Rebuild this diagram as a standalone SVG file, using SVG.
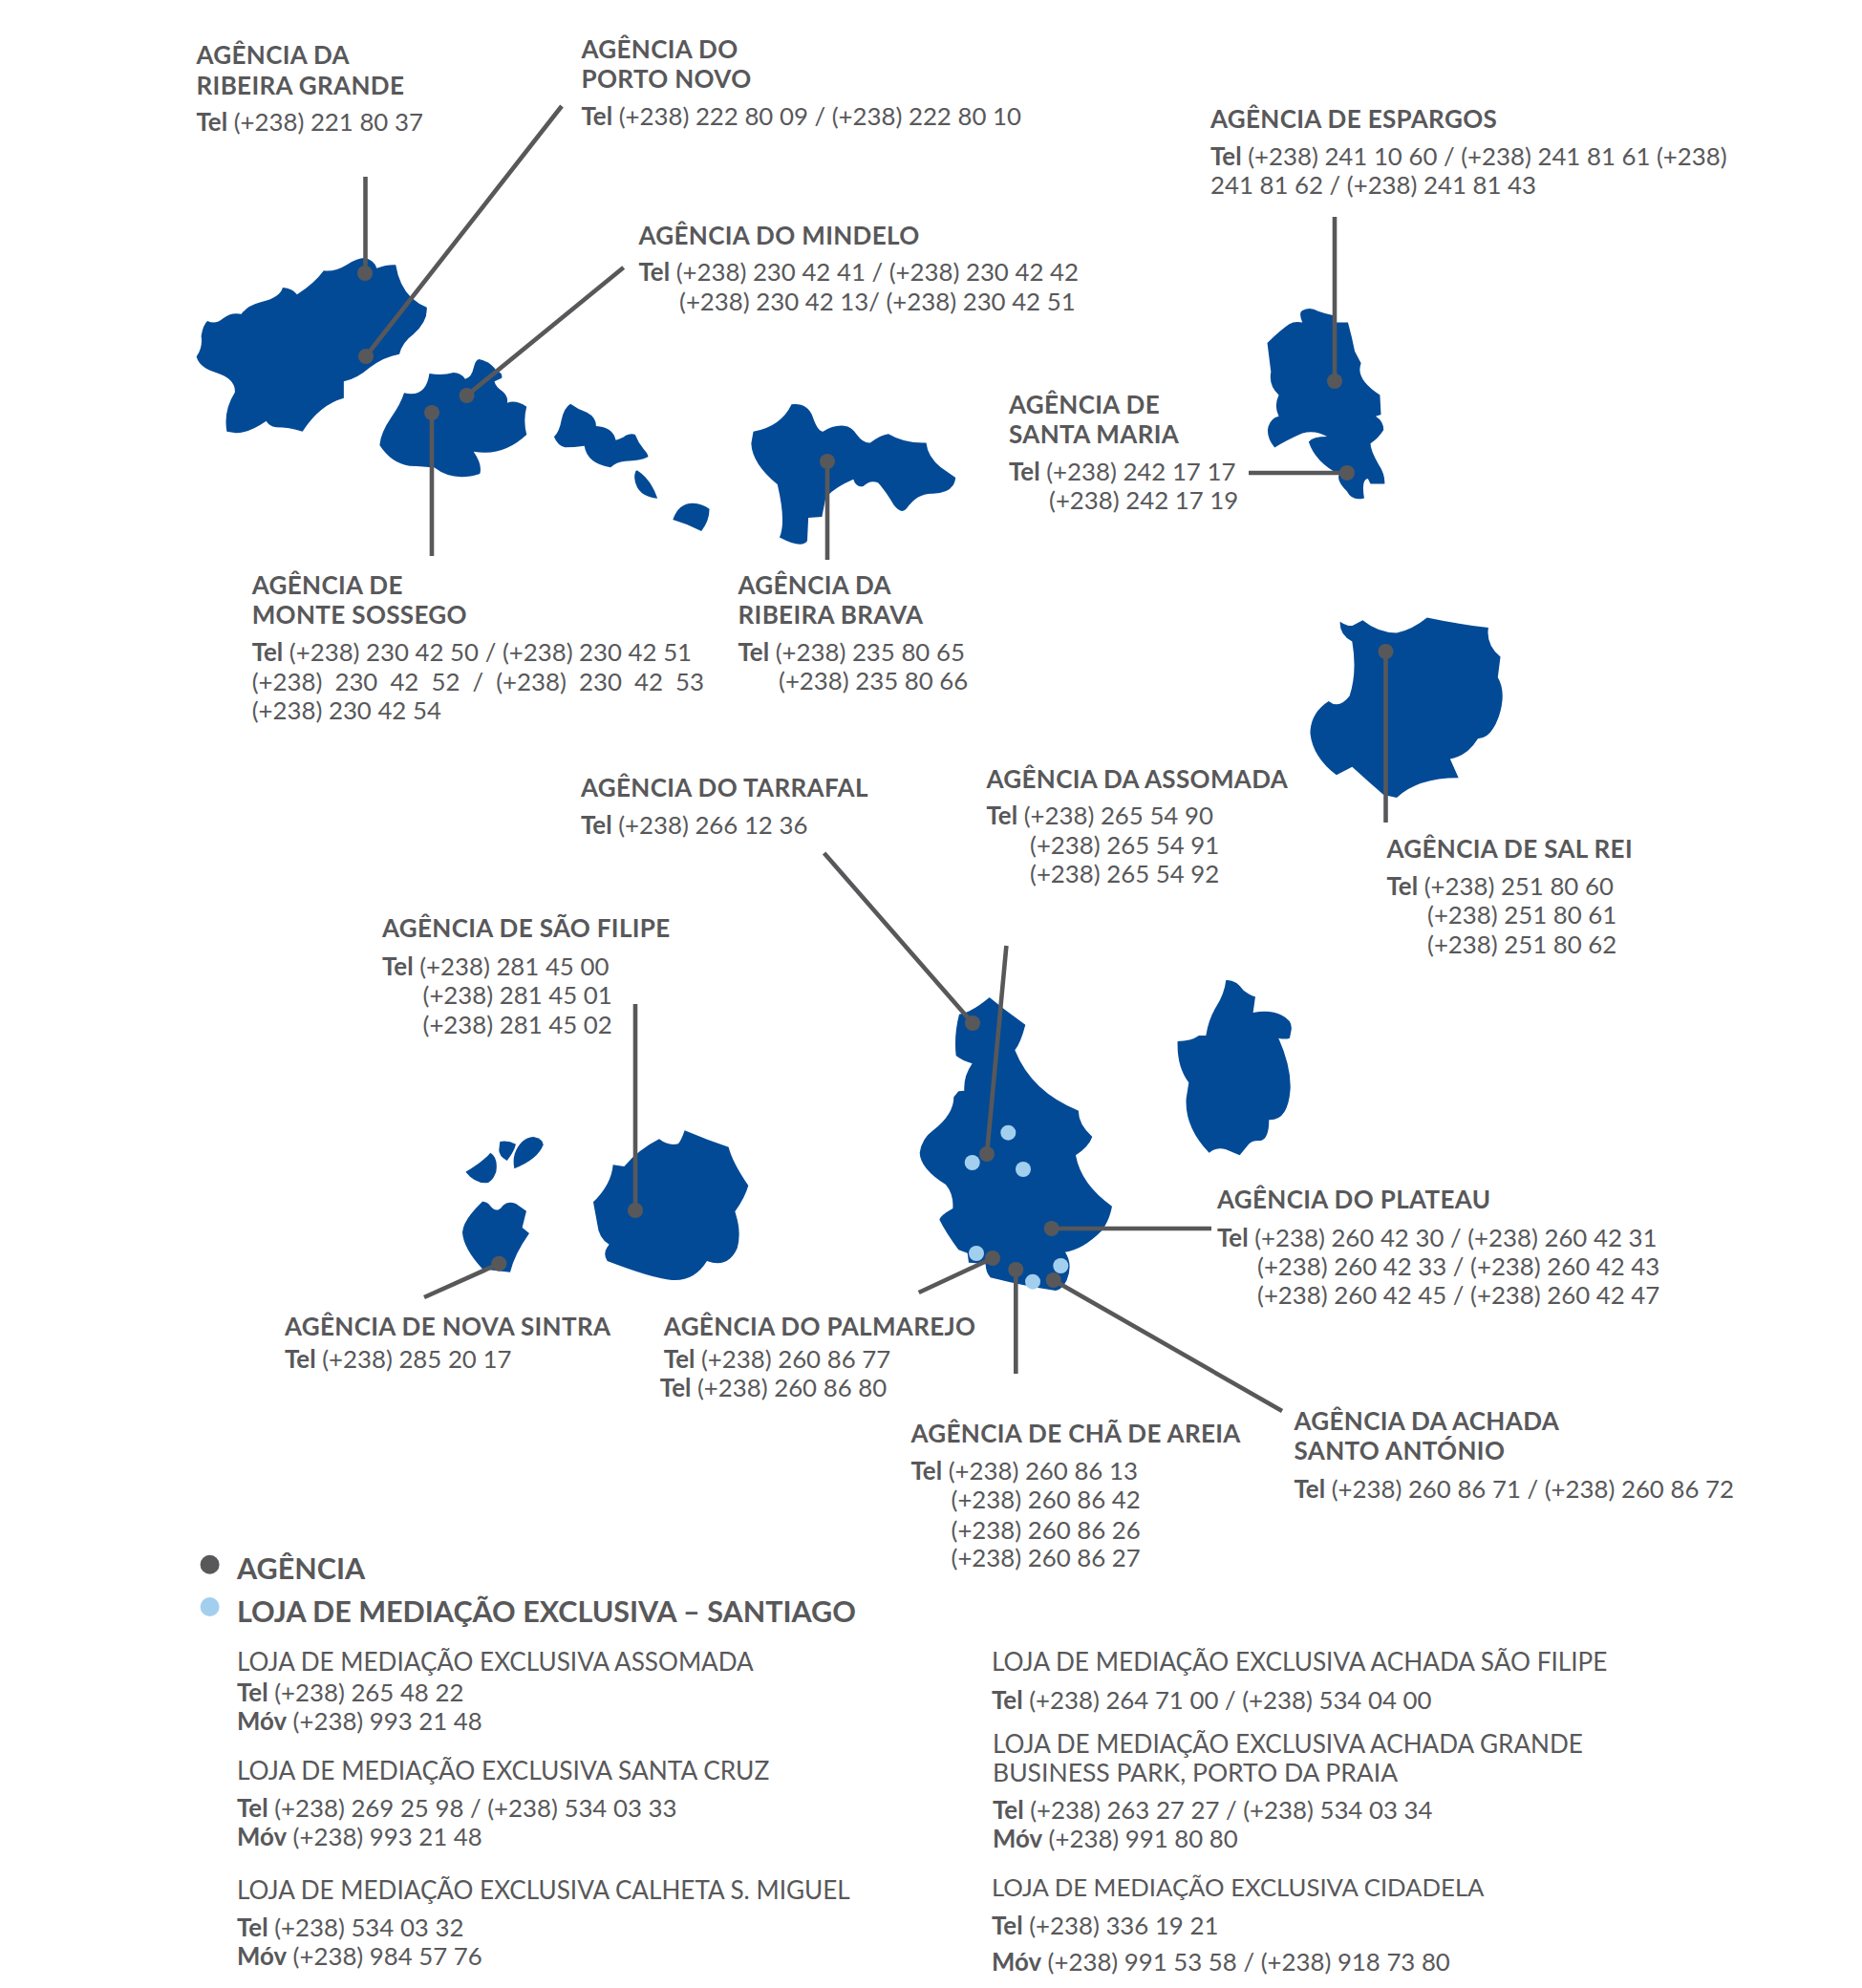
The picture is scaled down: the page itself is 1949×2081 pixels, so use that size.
<svg xmlns="http://www.w3.org/2000/svg" width="1949" height="2081" viewBox="0 0 1949 2081">
<style>
text{font-family:"Lato","Liberation Sans",sans-serif;font-size:25.8px;fill:#58585a}
.h{font-weight:700;font-size:26px;letter-spacing:.35px}
.b{font-weight:700}
.n{font-size:26.1px}
.big{font-weight:700;font-size:30.5px}
.isl{fill:#034a96}
.c{stroke:#58585a;stroke-width:4.6;fill:none}
.d{fill:#58585a}
.l{fill:#a3cfef}
</style>
<rect width="1949" height="2081" fill="#fff"/>
<g id="islands">
<g transform="translate(180 240) scale(.3827 .3333)">
<path class="isl" d="M530 90Q555 100 560 122Q590 110 612 112Q622 180 655 215Q675 235 697 245Q700 290 660 330Q630 355 622 392Q580 400 540 435Q505 470 470 478L470 530Q405 550 357 635Q320 622 285 622Q265 618 258 602Q210 640 175 640L150 635Q140 570 172 512Q175 470 120 450Q75 435 67 400Q85 370 80 335Q85 300 97 288Q120 300 140 280Q160 260 190 266Q205 240 245 228Q295 215 303 183Q330 185 342 205Q390 170 415 130Q445 135 480 110Q510 88 530 90Z"/>
<path class="isl" d="M704 453Q740 460 770 450Q790 450 802 470Q820 465 825 435Q830 410 840 408Q870 415 888 445Q905 450 902 467L882 478Q885 495 905 510Q920 525 917 545Q940 535 970 557Q960 600 970 645Q905 715 825 698Q850 740 842 768Q770 795 717 748Q690 745 650 743Q600 735 568 678Q570 640 600 590Q625 550 635 514Q695 530 704 453Z"/>
<path class="isl" d="M1090 548Q1110 565 1135 575Q1160 590 1160 618Q1205 620 1214 662Q1235 655 1240 648Q1255 640 1267 645Q1275 670 1290 690Q1305 710 1302 715Q1280 728 1240 728Q1215 730 1200 748Q1135 735 1128 680Q1100 685 1075 685Q1055 680 1045 652Q1060 635 1065 600Q1072 560 1090 548Z"/>
<path class="isl" d="M1272 757Q1310 785 1328 845Q1270 840 1265 780Q1265 762 1272 757Z"/>
<path class="isl" d="M1470 878Q1470 915 1448 948Q1410 925 1370 912Q1385 860 1425 860Q1450 862 1470 878Z"/>
</g>
<g transform="translate(760 300) scale(.5484 .3571)">
<path class="isl" d="M125 345Q155 340 165 380Q175 425 185 425Q205 405 225 408Q240 410 250 435Q262 460 275 458Q295 435 310 432Q340 460 382 458Q385 500 410 530L438 560Q435 605 395 607Q365 605 345 650Q335 670 320 640Q305 600 290 575Q275 565 262 585Q248 590 243 565Q205 590 190 620L183 675L157 678L155 745Q145 770 102 735Q115 690 98 580Q50 520 48 460L52 425Q105 410 125 345Z"/>
<path class="isl" d="M1100 70Q1115 58 1130 72Q1145 80 1160 85L1162 105L1187 105Q1195 150 1200 190L1212 225Q1200 270 1248 318L1250 375L1240 380Q1255 395 1255 420Q1245 445 1230 460Q1230 480 1245 520Q1258 550 1257 578L1230 578L1225 563Q1212 565 1218 620Q1195 630 1185 600Q1165 570 1170 550Q1125 515 1112 455Q1120 440 1147 440Q1125 420 1100 430Q1070 450 1047 472Q1030 440 1035 410Q1040 385 1055 380Q1045 350 1055 318Q1035 290 1040 250L1033 165Q1060 125 1075 110Q1085 100 1100 105Q1092 75 1100 70Z"/>
<path class="isl" d="M1172 982Q1190 1000 1198 992L1215 978Q1245 1015 1280 1015Q1310 1005 1338 970Q1400 990 1455 1000Q1450 1050 1478 1085L1473 1145Q1490 1190 1475 1260Q1460 1325 1435 1325Q1415 1375 1382 1385L1398 1440Q1320 1440 1280 1498L1255 1490Q1225 1450 1195 1408L1165 1432Q1120 1380 1115 1310Q1115 1250 1150 1215Q1170 1240 1190 1200Q1205 1130 1195 1040Q1170 1020 1172 982Z"/>
</g>
<g transform="translate(940 1010) scale(.3333)">
<path class="isl" d="M287 102L335 140L400 188Q385 245 367 268Q420 400 567 458Q565 500 610 540Q600 570 558 598Q575 690 672 758Q665 800 640 835Q580 895 525 902Q550 940 530 990Q515 1020 495 1023Q400 1010 290 982Q275 965 275 940L222 935L218 905L190 895Q150 840 130 800Q135 785 172 765Q175 720 150 690Q70 640 68 590Q75 545 110 520Q175 470 175 415L190 397L208 395Q205 350 233 310Q200 300 182 285Q175 220 192 155Q230 150 287 102Z"/>
<path class="isl" d="M1030 48Q1060 45 1085 80Q1105 95 1122 100L1115 150Q1170 140 1205 158Q1240 175 1235 205L1230 230Q1215 235 1195 230Q1235 320 1232 390Q1225 490 1165 487Q1165 545 1140 552Q1110 550 1100 565L1073 598L1030 580Q1000 570 977 590Q900 510 905 420L913 370Q875 320 878 240Q920 240 945 222L967 222Q975 170 1000 130Q1025 90 1030 48Z"/>
</g>
<g transform="translate(460 1020) scale(.3333)">
<path class="isl" d="M770 490Q840 520 908 542Q920 590 970 663Q960 700 928 745Q950 810 935 860Q905 925 840 900Q800 965 730 960Q670 955 527 900Q510 875 533 848Q500 830 495 780L483 715Q540 660 545 598L580 603Q625 550 690 517Q720 540 750 532Q760 520 770 490Z"/>
<path class="isl" d="M135 713Q150 712 165 733Q182 750 200 725Q215 710 240 720L273 743Q265 775 260 795L282 813Q235 880 222 935L195 932L135 925Q75 860 72 810Q75 770 135 713Z"/>
<path class="isl" d="M160 560Q185 575 178 620Q165 655 145 655Q110 655 82 620Q135 590 160 560Z"/>
<path class="isl" d="M190 525Q215 520 240 533Q235 555 212 585Q185 570 187 550Z"/>
<path class="isl" d="M295 510Q325 515 326 535Q310 580 235 610Q225 560 260 525Q275 512 295 510Z"/>
</g>
</g>
<g id="connectors">
<path class="c" d="M382.5 185V286"/>
<path class="c" d="M588 111L383 373"/>
<path class="c" d="M652.7 280L488.6 414"/>
<path class="c" d="M452 432V582"/>
<path class="c" d="M866 483V586"/>
<path class="c" d="M1397 227V399"/>
<path class="c" d="M1307 495H1410"/>
<path class="c" d="M1450.5 682V861"/>
<path class="c" d="M665 1051V1267"/>
<path class="c" d="M444 1358L522 1323"/>
<path class="c" d="M862.6 893L1018 1071"/>
<path class="c" d="M1053.4 990L1033 1208"/>
<path class="c" d="M1268 1286H1100.7"/>
<path class="c" d="M961.7 1353L1039 1317"/>
<path class="c" d="M1063.3 1329V1438"/>
<path class="c" d="M1342 1477L1102.7 1340"/>
</g>
<g id="shops">
<circle class="l" cx="1055.3" cy="1185.7" r="8"/>
<circle class="l" cx="1017.7" cy="1217" r="8"/>
<circle class="l" cx="1071" cy="1224" r="8"/>
<circle class="l" cx="1022" cy="1312" r="8"/>
<circle class="l" cx="1110.3" cy="1325" r="8"/>
<circle class="l" cx="1081" cy="1341.7" r="8"/>
</g>
<g id="ribeira-grande"><circle class="d" cx="382" cy="286" r="8"/>
<text class="h" x="205.5" y="66.7">AGÊNCIA DA</text><text class="h" x="205.5" y="98.7">RIBEIRA GRANDE</text>
<text x="205.5" y="137.2"><tspan class="b">Tel</tspan> (+238) 221 80 37</text></g>
<g id="porto-novo"><circle class="d" cx="383" cy="373" r="8"/>
<text class="h" x="608.5" y="60.8">AGÊNCIA DO</text><text class="h" x="608.5" y="92.1">PORTO NOVO</text>
<text x="608.5" y="130.7"><tspan class="b">Tel</tspan> (+238) 222 80 09 / (+238) 222 80 10</text></g>
<g id="espargos"><circle class="d" cx="1397" cy="399" r="8"/>
<text class="h" x="1267" y="133.7">AGÊNCIA DE ESPARGOS</text>
<text x="1267" y="172.9"><tspan class="b">Tel</tspan> (+238) 241 10 60 / (+238) 241 81 61 (+238)</text>
<text x="1267" y="203.4">241 81 62 / (+238) 241 81 43</text></g>
<g id="mindelo"><circle class="d" cx="488.6" cy="414" r="8"/>
<text class="h" x="668.5" y="256">AGÊNCIA DO MINDELO</text>
<text x="668.5" y="294.4"><tspan class="b">Tel</tspan> (+238) 230 42 41 / (+238) 230 42 42</text>
<text x="711" y="324.5">(+238) 230 42 13/ (+238) 230 42 51</text></g>
<g id="santa-maria"><circle class="d" cx="1410" cy="495" r="8"/>
<text class="h" x="1056" y="433">AGÊNCIA DE</text><text class="h" x="1056" y="464.3">SANTA MARIA</text>
<text x="1056" y="503"><tspan class="b">Tel</tspan> (+238) 242 17 17</text>
<text x="1098" y="533">(+238) 242 17 19</text></g>
<g id="monte-sossego"><circle class="d" cx="452" cy="432" r="8"/>
<text class="h" x="263.7" y="622">AGÊNCIA DE</text><text class="h" x="263.7" y="653">MONTE SOSSEGO</text>
<text x="263.7" y="692"><tspan class="b">Tel</tspan> (+238) 230 42 50 / (+238) 230 42 51</text>
<text x="263.7" y="722.6" word-spacing="6.5">(+238) 230 42 52 / (+238) 230 42 53</text>
<text x="263.7" y="753">(+238) 230 42 54</text></g>
<g id="ribeira-brava"><circle class="d" cx="866" cy="483" r="8"/>
<text class="h" x="772.5" y="622">AGÊNCIA DA</text><text class="h" x="772.5" y="653">RIBEIRA BRAVA</text>
<text x="772.5" y="692"><tspan class="b">Tel</tspan> (+238) 235 80 65</text>
<text x="815" y="722">(+238) 235 80 66</text></g>
<g id="assomada"><circle class="d" cx="1033" cy="1208" r="8"/>
<text class="h" x="1032.5" y="824.5">AGÊNCIA DA ASSOMADA</text>
<text x="1032.5" y="862.5"><tspan class="b">Tel</tspan> (+238) 265 54 90</text>
<text x="1078" y="893.5">(+238) 265 54 91</text>
<text x="1078" y="924">(+238) 265 54 92</text></g>
<g id="tarrafal"><circle class="d" cx="1018" cy="1071" r="8"/>
<text class="h" x="608" y="834">AGÊNCIA DO TARRAFAL</text>
<text x="608" y="873"><tspan class="b">Tel</tspan> (+238) 266 12 36</text></g>
<g id="sal-rei"><circle class="d" cx="1450.5" cy="682" r="8"/>
<text class="h" x="1451.5" y="897.5">AGÊNCIA DE SAL REI</text>
<text x="1451.5" y="936.5"><tspan class="b">Tel</tspan> (+238) 251 80 60</text>
<text x="1494" y="966.5">(+238) 251 80 61</text>
<text x="1494" y="998">(+238) 251 80 62</text></g>
<g id="sao-filipe"><circle class="d" cx="665" cy="1267" r="8"/>
<text class="h" x="400" y="981">AGÊNCIA DE SÃO FILIPE</text>
<text x="400" y="1020.5"><tspan class="b">Tel</tspan> (+238) 281 45 00</text>
<text x="442.5" y="1051.4">(+238) 281 45 01</text>
<text x="442.5" y="1082">(+238) 281 45 02</text></g>
<g id="nova-sintra"><circle class="d" cx="522.3" cy="1322.7" r="8"/>
<text class="h" x="298" y="1398">AGÊNCIA DE NOVA SINTRA</text>
<text x="298" y="1431.7"><tspan class="b">Tel</tspan> (+238) 285 20 17</text></g>
<g id="palmarejo"><circle class="d" cx="1039" cy="1317" r="8"/>
<text class="h" x="694.8" y="1398">AGÊNCIA DO PALMAREJO</text>
<text x="694.8" y="1431.7"><tspan class="b">Tel</tspan> (+238) 260 86 77</text>
<text x="690.8" y="1462"><tspan class="b">Tel</tspan> (+238) 260 86 80</text></g>
<g id="plateau"><circle class="d" cx="1100.7" cy="1286" r="8"/>
<text class="h" x="1274" y="1265">AGÊNCIA DO PLATEAU</text>
<text x="1274" y="1304.5"><tspan class="b">Tel</tspan> (+238) 260 42 30 / (+238) 260 42 31</text>
<text x="1316" y="1335">(+238) 260 42 33 / (+238) 260 42 43</text>
<text x="1316" y="1365.4">(+238) 260 42 45 / (+238) 260 42 47</text></g>
<g id="cha-de-areia"><circle class="d" cx="1063.3" cy="1329" r="8"/>
<text class="h" x="953.5" y="1510">AGÊNCIA DE CHÃ DE AREIA</text>
<text x="953.5" y="1548.5"><tspan class="b">Tel</tspan> (+238) 260 86 13</text>
<text x="995.5" y="1579">(+238) 260 86 42</text>
<text x="995.5" y="1610.5">(+238) 260 86 26</text>
<text x="995.5" y="1640">(+238) 260 86 27</text></g>
<g id="achada-santo-antonio"><circle class="d" cx="1102.7" cy="1340" r="8"/>
<text class="h" x="1354.5" y="1496.6">AGÊNCIA DA ACHADA</text><text class="h" x="1354.5" y="1528">SANTO ANTÓNIO</text>
<text x="1354.5" y="1568"><tspan class="b">Tel</tspan> (+238) 260 86 71 / (+238) 260 86 72</text></g>
<g id="legend">
<circle class="d" cx="219.6" cy="1637.7" r="10"/><circle class="l" cx="219.6" cy="1682" r="10"/>
<text class="big" x="248" y="1653">AGÊNCIA</text>
<text class="big" x="248" y="1697.7">LOJA DE MEDIAÇÃO EXCLUSIVA – SANTIAGO</text>
</g>
<g id="lojas">
<text class="n" x="248" y="1748.5">LOJA DE MEDIAÇÃO EXCLUSIVA ASSOMADA</text>
<text x="248" y="1781"><tspan class="b">Tel</tspan> (+238) 265 48 22</text>
<text x="248" y="1810.7"><tspan class="b">Móv</tspan> (+238) 993 21 48</text>
<text class="n" style="font-size:26.3px" x="248" y="1862.7">LOJA DE MEDIAÇÃO EXCLUSIVA SANTA CRUZ</text>
<text x="248" y="1901.7"><tspan class="b">Tel</tspan> (+238) 269 25 98 / (+238) 534 03 33</text>
<text x="248" y="1932.3"><tspan class="b">Móv</tspan> (+238) 993 21 48</text>
<text class="n" x="248" y="1987.7">LOJA DE MEDIAÇÃO EXCLUSIVA CALHETA S. MIGUEL</text>
<text x="248" y="2026.7"><tspan class="b">Tel</tspan> (+238) 534 03 32</text>
<text x="248" y="2057.3"><tspan class="b">Móv</tspan> (+238) 984 57 76</text>
<text class="n" style="font-size:26.2px" x="1038" y="1749">LOJA DE MEDIAÇÃO EXCLUSIVA ACHADA SÃO FILIPE</text>
<text x="1038" y="1789"><tspan class="b">Tel</tspan> (+238) 264 71 00 / (+238) 534 04 00</text>
<text class="n" x="1039" y="1834.5">LOJA DE MEDIAÇÃO EXCLUSIVA ACHADA GRANDE</text>
<text class="n" style="font-size:26.5px" x="1039" y="1865">BUSINESS PARK, PORTO DA PRAIA</text>
<text x="1039" y="1903.5"><tspan class="b">Tel</tspan> (+238) 263 27 27 / (+238) 534 03 34</text>
<text x="1039" y="1934"><tspan class="b">Móv</tspan> (+238) 991 80 80</text>
<text class="n" style="font-size:25.7px" x="1038" y="1985">LOJA DE MEDIAÇÃO EXCLUSIVA CIDADELA</text>
<text x="1038" y="2024.5"><tspan class="b">Tel</tspan> (+238) 336 19 21</text>
<text x="1038" y="2063"><tspan class="b">Móv</tspan> (+238) 991 53 58 / (+238) 918 73 80</text>
</g>
</svg>
